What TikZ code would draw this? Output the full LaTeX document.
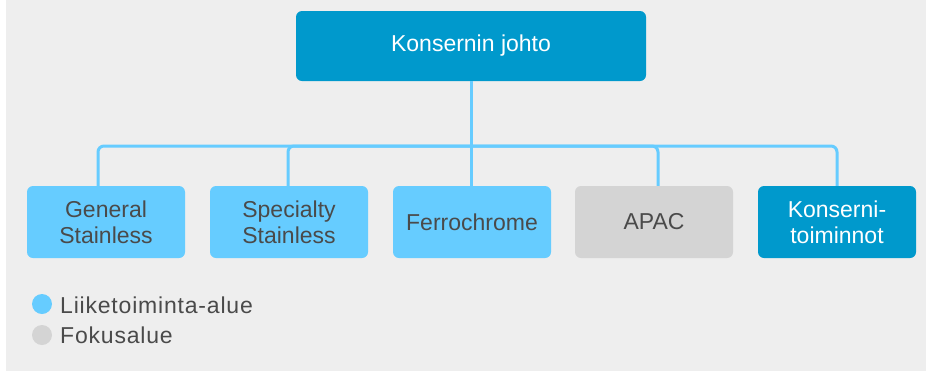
\documentclass[tikz,border=0pt]{standalone}
\usepackage{fontspec}
\setmainfont{Liberation Sans}
\newfontfamily\legfont[LetterSpace=3.5]{Liberation Sans}
\definecolor{bgc}{HTML}{EEEEEE}
\definecolor{darkb}{HTML}{0099CC}
\definecolor{lightb}{HTML}{66CCFF}
\definecolor{grayb}{HTML}{D4D4D4}
\definecolor{txt}{HTML}{4A4A4A}
\begin{document}
\begin{tikzpicture}[x=1pt,y=-1pt,
  box/.style={rounded corners=6pt, minimum width=158pt, minimum height=72pt, inner sep=0pt, align=center, font=\fontsize{23}{26}\selectfont, text=txt},
  conn/.style={draw=lightb, line width=3pt, rounded corners=6pt},
  legtxt/.style={anchor=base west, font=\legfont\fontsize{23}{26}\selectfont, text=txt, inner sep=0pt}]
\useasboundingbox (0,0) rectangle (926,373);
\fill[white] (0,0) rectangle (926,373);
\fill[bgc] (6,0) rectangle (926,371);
\node[box, fill=darkb, text=white, minimum width=350pt, minimum height=70pt] (top) at (471,46) {Konsernin johto};
\node[box, fill=lightb] (b1) at (106,222) {General\\Stainless};
\node[box, fill=lightb] (b2) at (289,222) {Specialty\\Stainless};
\node[box, fill=lightb] (b3) at (472,222) {Ferrochrome};
\node[box, fill=grayb] (b4) at (654,222) {APAC};
\node[box, fill=darkb, text=white] (b5) at (837,222) {Konserni-\\toiminnot};
\coordinate (bus) at (471,146);
\draw[conn] (top.south) -- (top.south |- b3.north);
\draw[conn] ([xshift=-8pt]b1.north) |- (bus);
\draw[conn] ([xshift=-1pt]b2.north) |- (bus);
\draw[conn] ([xshift=4pt]b4.north) |- (bus);
\draw[conn] (b5.north) |- (bus);
\fill[lightb] (42,304) circle (10pt) coordinate (c1);
\fill[grayb] (42,335) circle (10pt) coordinate (c2);
\node[legtxt] (l1) at (60,313) {Liiketoiminta-alue};
\node[legtxt] (l2) at (60,343) {Fokusalue};
\end{tikzpicture}
\end{document}
